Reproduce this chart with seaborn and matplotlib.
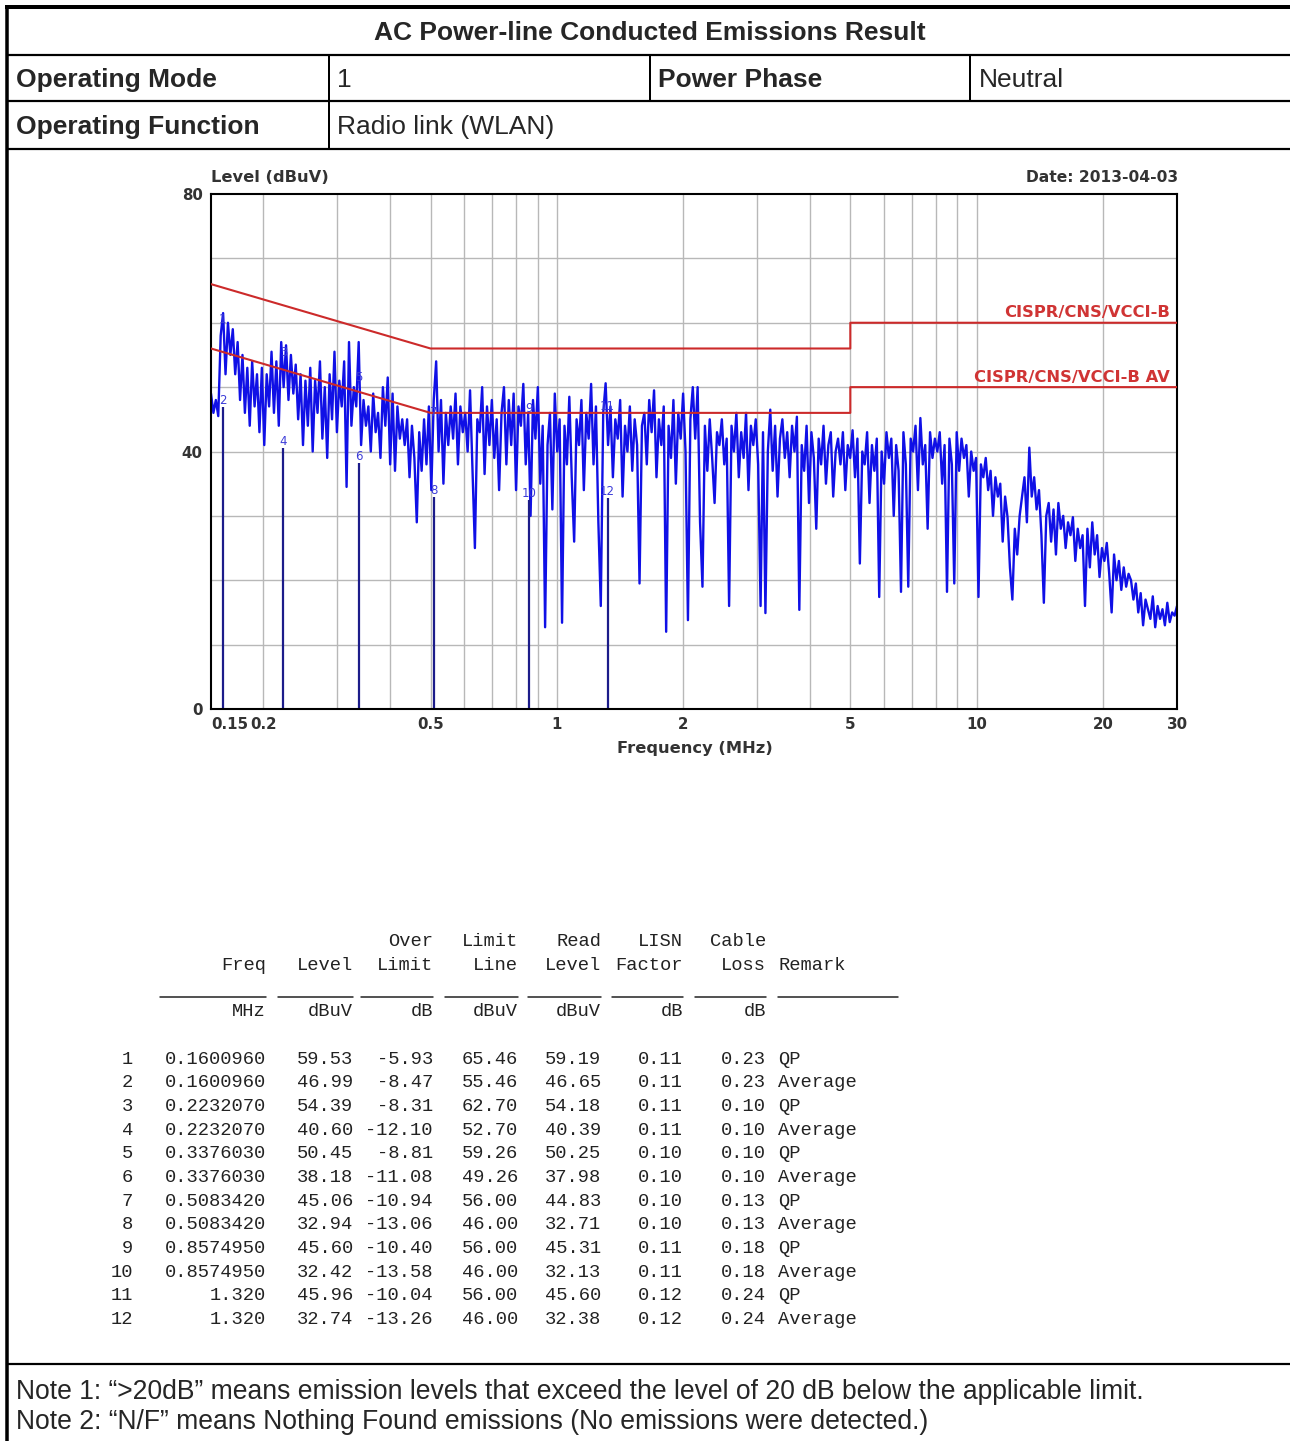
#%% Set up
import numpy as np
import pandas as pd
import seaborn as sns
import matplotlib.pyplot as plt
import matplotlib.ticker as mticker
import matplotlib.transforms as mtransforms

sns.set_theme(style="white")
plt.rcParams["font.family"] = ["DejaVu Sans"]

# Header info
title = "AC Power-line Conducted Emissions Result"
mode_label, mode_value = "Operating Mode", "1"
phase_label, phase_value = "Power Phase", "Neutral"
func_label, func_value = "Operating Function", "Radio link (WLAN)"
notes = ["Note 1: \u201c>20dB\u201d means emission levels that exceed the level of 20 dB below the applicable limit.",
         "Note 2: \u201cN/F\u201d means Nothing Found emissions (No emissions were detected.)"]

# Limit lines (MHz, dBuV)
qp_limit_freq = [0.15, 0.5, 0.5, 5, 5, 30]
qp_limit_level = [66, 56, 56, 56, 60, 60]
av_limit_freq = [0.15, 0.5, 0.5, 5, 5, 30]
av_limit_level = [56, 46, 46, 46, 50, 50]

# Sweep trace (dBuV), 0.15 -> 30 MHz
trace_level = [
    49, 46, 48, 45.5, 58, 61.5, 52, 60, 55, 59, 52, 57, 48, 55, 46, 53, 44, 54, 47, 52,
    43, 53, 41, 52, 47, 55.5, 46, 54, 44, 57, 50, 56.5, 48, 55, 49, 53.5, 45, 52, 41, 51,
    44, 53, 40, 51, 46, 54, 42, 50, 39, 52, 45, 55.5, 43, 51, 47, 54, 34.5, 57, 44, 50,
    47, 57, 41, 48, 44, 47, 40, 49, 43, 46, 39, 50, 44, 51.5, 38, 49, 37, 47, 42, 45,
    41, 45, 36, 44, 39, 29, 43, 37, 45, 38, 47, 34, 48, 54, 40, 48, 35, 46, 41, 47,
    42, 49, 38, 47, 43, 46, 40, 49.5, 37, 25, 45, 43, 50, 36.5, 47, 41, 48, 39, 45, 34,
    46, 50, 38, 48, 41, 49, 34, 47, 44, 50.5, 38, 46, 30, 48, 42, 50, 35, 44, 12.7, 41,
    46, 31, 49, 40, 45, 13.4, 44, 38, 48.5, 36, 26, 45, 41, 48, 34, 46, 42, 50.5, 38, 47,
    29, 16, 46, 50.6, 41, 47, 36, 45, 42, 48, 33, 44, 40, 47, 37, 45, 41, 19.5, 44, 46,
    38, 48, 43, 49.5, 36, 45, 41, 47, 12, 44, 39, 48, 35, 46, 42, 49, 40, 13.8, 45, 50,
    42, 50, 29, 19, 44, 37, 45, 39, 32, 43, 41, 45, 38, 42, 16, 44, 40, 46, 36, 43,
    39, 46, 34, 44, 41, 45, 38, 16, 43, 14.9, 40, 46.5, 37, 44, 33, 42, 45, 39, 43, 36,
    44, 40, 45.4, 15.4, 41, 37, 44, 32, 43, 39, 28, 42, 38, 44, 35, 41, 43, 33, 40, 42,
    38, 43, 34, 41, 39, 43.3, 36, 42, 22.6, 40, 38, 43, 32, 41, 37, 42, 17.4, 40, 35, 43,
    39, 42, 30, 41, 37, 18.2, 43, 38, 19, 42, 40, 44, 34, 45.2, 38, 41, 28, 43, 39, 42,
    40, 43, 35, 41, 18.2, 42, 38, 19.5, 43, 37, 42, 39, 41, 33, 40, 37, 39, 17.4, 38, 36,
    39, 34, 37, 30, 36, 33, 35, 26, 33, 29.8, 22, 17, 28, 24, 30, 33, 36, 29, 40.6, 33,
    36, 31, 34, 27, 16.5, 30, 32, 26, 31, 24, 32, 28, 30, 25, 29, 27, 29.8, 23, 28, 25,
    27, 16, 28, 22, 29, 24, 27, 20.5, 25, 23, 25.8, 21, 15, 24, 20, 23, 18.5, 22, 19, 21,
    20, 17, 19.5, 15, 18, 13, 17, 15.5, 14, 17.5, 12.7, 16, 14, 15.5, 13, 16.5, 13.5, 15, 14.5, 16,
]

# Final measurement table
row_no = list(range(1, 13))
freq = ["0.1600960", "0.1600960", "0.2232070", "0.2232070", "0.3376030", "0.3376030",
        "0.5083420", "0.5083420", "0.8574950", "0.8574950", "1.320", "1.320"]
level = [59.53, 46.99, 54.39, 40.60, 50.45, 38.18, 45.06, 32.94, 45.60, 32.42, 45.96, 32.74]
over_limit = [-5.93, -8.47, -8.31, -12.10, -8.81, -11.08, -10.94, -13.06, -10.40, -13.58, -10.04, -13.26]
limit_line = [65.46, 55.46, 62.70, 52.70, 59.26, 49.26, 56.00, 46.00, 56.00, 46.00, 56.00, 46.00]
read_level = [59.19, 46.65, 54.18, 40.39, 50.25, 37.98, 44.83, 32.71, 45.31, 32.13, 45.60, 32.38]
lisn_factor = [0.11, 0.11, 0.11, 0.11, 0.10, 0.10, 0.10, 0.10, 0.11, 0.11, 0.12, 0.12]
cable_loss = [0.23, 0.23, 0.10, 0.10, 0.10, 0.10, 0.13, 0.13, 0.18, 0.18, 0.24, 0.24]
remark = ["QP", "Average"] * 6

head_1 = ["", "", "", "Over", "Limit", "Read", "LISN", "Cable"]
head_2 = ["", "Freq", "Level", "Limit", "Line", "Level", "Factor", "Loss"]
units = ["", "MHz", "dBuV", "dB", "dBuV", "dBuV", "dB", "dB"]

xtick_vals = [0.15, 0.2, 0.5, 1, 2, 5, 10, 20, 30]
xtick_labels = ["0.15", "0.2", "0.5", "1", "2", "5", "10", "20", "30"]
grid_freqs = [0.2, 0.3, 0.4, 0.5, 0.6, 0.7, 0.8, 0.9, 1, 2, 3, 4, 5, 6, 7, 8, 9, 10, 20]

#%% Figure and page frame (pixel coordinates)
W, H = 1290, 1441
fig = plt.figure(figsize=(W / 100, H / 100), dpi=100)
bg = fig.add_axes([0, 0, 1, 1])
bg.set_xlim(0, W)
bg.set_ylim(H, 0)
bg.axis("off")

px = 0.72  # one pixel in points
bg.plot([5, W], [6.5, 6.5], color="black", lw=4 * px, solid_capstyle="butt")
bg.plot([7, 7], [5, H], color="black", lw=3.5 * px, solid_capstyle="butt")
for yy in [55, 101, 149, 1364]:
    bg.plot([7, W], [yy, yy], color="black", lw=2.2 * px)
bg.plot([329, 329], [55, 149], color="black", lw=2 * px)
bg.plot([650, 650], [55, 101], color="black", lw=2 * px)
bg.plot([970, 970], [55, 101], color="black", lw=2 * px)

sans = "Liberation Sans"
hsize = 19
bg.text(650, 33, title, ha="center", va="center", fontsize=hsize, fontweight="bold", family=sans)
bg.text(16, 80, mode_label, ha="left", va="center", fontsize=hsize, fontweight="bold", family=sans)
bg.text(337, 80, mode_value, ha="left", va="center", fontsize=hsize, family=sans)
bg.text(658, 80, phase_label, ha="left", va="center", fontsize=hsize, fontweight="bold", family=sans)
bg.text(979, 80, phase_value, ha="left", va="center", fontsize=hsize, family=sans)
bg.text(16, 127, func_label, ha="left", va="center", fontsize=hsize, fontweight="bold", family=sans)
bg.text(337, 127, func_value, ha="left", va="center", fontsize=hsize, family=sans)
bg.text(16, 1392, notes[0], ha="left", va="center", fontsize=19.1, family=sans)
bg.text(16, 1422, notes[1], ha="left", va="center", fontsize=19.1, family=sans)

#%% Spectrum plot
ax = fig.add_axes([211 / W, 1 - 709 / H, 966 / W, 515 / H])
ax.set_facecolor("white")

ax.vlines(grid_freqs, 0, 80, color="#b8b8b8", lw=1.0, zorder=0)
ax.hlines(np.arange(10, 80, 10), 0.15, 30, color="#b8b8b8", lw=1.0, zorder=0)

spec = pd.DataFrame({"freq": np.geomspace(0.15, 30, len(trace_level)), "level": trace_level})
sns.lineplot(data=spec, x="freq", y="level", ax=ax, color="#1010e6", linewidth=1.7,
             estimator=None, sort=False, zorder=2)

sns.lineplot(x=qp_limit_freq, y=qp_limit_level, ax=ax, color="#cc2a2a", linewidth=1.5,
             estimator=None, sort=False, zorder=3)
sns.lineplot(x=av_limit_freq, y=av_limit_level, ax=ax, color="#cc2a2a", linewidth=1.5,
             estimator=None, sort=False, zorder=3)

# marker drop lines and numbers
mk_freq = np.array([float(f) for f in freq])
ax.vlines(mk_freq[1::2], 0, np.array(level)[1::2], color="#1c1c8a", lw=1.6, zorder=2)
for n, f, lv in zip(row_no, mk_freq, level):
    ax.text(f, lv, str(n), color="#3c3cd8", fontsize=8.5, ha="center", va="bottom", zorder=4)

lab_tr = mtransforms.blended_transform_factory(ax.transAxes, ax.transData)
ax.text(0.9925, 60.4, "CISPR/CNS/VCCI-B", color="#d03434", fontsize=11.8, fontweight="bold",
        ha="right", va="bottom", zorder=4, transform=lab_tr)
ax.text(0.9925, 50.4, "CISPR/CNS/VCCI-B AV", color="#d03434", fontsize=11.8, fontweight="bold",
        ha="right", va="bottom", zorder=4, transform=lab_tr)

ax.set_xscale("log")
ax.set_xlim(0.15, 30)
ax.set_ylim(0, 80)
ax.set_xticks(xtick_vals)
ax.set_xticklabels(xtick_labels)
ax.xaxis.set_minor_locator(mticker.NullLocator())
ax.set_yticks([0, 40, 80])
ax.set_yticklabels(["0", "40", "80"])
ax.tick_params(length=0, pad=6, labelsize=10.8, labelcolor="#333333")
for lab in ax.get_xticklabels() + ax.get_yticklabels():
    lab.set_fontweight("bold")
ax.get_xticklabels()[0].set_ha("left")
ax.set_xlabel("")
ax.set_ylabel("")
for sp in ax.spines.values():
    sp.set_color("black")
    sp.set_linewidth(1.5)

bg.text(211, 177, "Level (dBuV)", ha="left", va="center", fontsize=11.7, fontweight="bold", color="#333333")
bg.text(1178, 177, "Date: 2013-04-03", ha="right", va="center", fontsize=11.2, fontweight="bold", color="#333333")
bg.text(695, 748, "Frequency (MHz)", ha="center", va="center", fontsize=11.7, fontweight="bold", color="#333333")

#%% Measurement table (monospace text)
mono = "Liberation Mono"
col_right = [133, 266, 353, 433, 518, 601, 683, 766]
remark_x = 778
tsize = 13.5
tcol = "#222222"

for xr, t1, t2, u in zip(col_right, head_1, head_2, units):
    bg.text(xr, 941, t1, ha="right", va="center", fontsize=tsize, family=mono, color=tcol)
    bg.text(xr, 965, t2, ha="right", va="center", fontsize=tsize, family=mono, color=tcol)
    bg.text(xr, 1012, u, ha="right", va="center", fontsize=tsize, family=mono, color=tcol)
bg.text(remark_x, 965, "Remark", ha="left", va="center", fontsize=tsize, family=mono, color=tcol)

for x0, x1 in [(160, 266), (278, 353), (361, 433), (445, 518), (528, 601), (612, 683), (695, 766), (778, 898)]:
    bg.plot([x0, x1], [997, 997], color=tcol, lw=1.1)

for i in range(len(row_no)):
    yy = 1059 + i * 23.7
    cells = [str(row_no[i]), freq[i], f"{level[i]:.2f}", f"{over_limit[i]:.2f}", f"{limit_line[i]:.2f}",
             f"{read_level[i]:.2f}", f"{lisn_factor[i]:.2f}", f"{cable_loss[i]:.2f}"]
    for xr, c in zip(col_right, cells):
        bg.text(xr, yy, c, ha="right", va="center", fontsize=tsize, family=mono, color=tcol)
    bg.text(remark_x, yy, remark[i], ha="left", va="center", fontsize=tsize, family=mono, color=tcol)

fig.savefig("out.png", dpi=100)
